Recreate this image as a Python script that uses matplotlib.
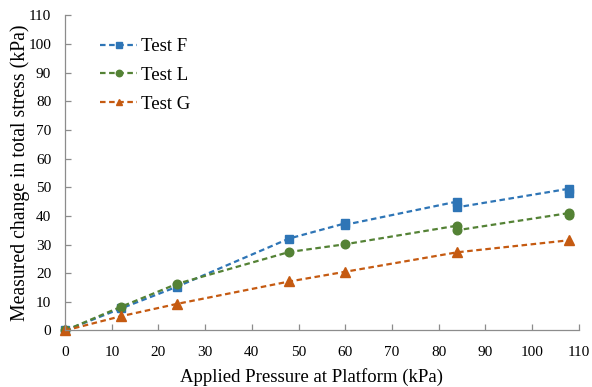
import matplotlib.pyplot as plt

plt.rcParams["font.family"] = ["Liberation Serif", "DejaVu Serif"]

# applied platform pressure (kPa) and measured stress change (kPa);
# repeated pressures are repeat readings at the same load step
press_F = [0, 12, 24, 48, 60, 60, 84, 84, 108, 108]
stress_F = [0, 7.7, 15.3, 32.1, 37.4, 36.9, 45.0, 43.0, 49.5, 48.1]

press_L = [0, 12, 24, 48, 60, 84, 84, 108, 108]
stress_L = [0, 8.3, 16.3, 27.4, 30.1, 36.6, 35.0, 41.0, 40.4]

press_G = [0, 12, 24, 48, 60, 84, 108]
stress_G = [0, 5.0, 9.3, 17.1, 20.5, 27.3, 31.5]

names = ["Test F", "Test L", "Test G"]
colors = ["#2E75B6", "#548235", "#C55A11"]
markers = ["s", "o", "^"]
msizes = [5.4, 6.2, 6.5]


def style_axes(ax):
    for side in ["top", "right"]:
        ax.spines[side].set_visible(False)
    for side in ["left", "bottom"]:
        ax.spines[side].set_color("#8C8C8C")
        ax.spines[side].set_linewidth(0.9)
    ax.tick_params(direction="in", length=4, width=0.9, color="#8C8C8C",
                   labelsize=11)
    ax.tick_params(axis="y", pad=10)
    ax.tick_params(axis="x", pad=11)


def main():
    fig = plt.figure(figsize=(5.92, 3.87), dpi=100)
    ax = fig.add_axes([0.110, 0.146, 0.8675, 0.8145])

    series = [(press_F, stress_F), (press_L, stress_L), (press_G, stress_G)]
    for (x, y), name, c, m, ms in zip(series, names, colors, markers, msizes):
        ax.plot(x, y, linestyle=(0, (2.5, 1.6)), lw=1.6, color=c,
                marker=m, markersize=ms, label=name, clip_on=False)

    ax.set(xlim=[0, 110], ylim=[0, 110],
           xticks=range(0, 111, 10), yticks=range(0, 111, 10))
    style_axes(ax)

    ax.set_xlabel("Applied Pressure at Platform (kPa)", fontsize=13.5,
                  labelpad=7)
    ax.xaxis.label.set_x(0.479)
    ax.set_ylabel("Measured change in total stress (kPa)", fontsize=14.2,
                  labelpad=-1)

    ax.legend(loc="upper left", bbox_to_anchor=(0.035, 0.981), frameon=False,
              fontsize=13.5, markerscale=0.75, handlelength=2.0,
              handletextpad=0.2, labelspacing=0.62)

    fig.savefig("out.png", dpi=100)


main()
